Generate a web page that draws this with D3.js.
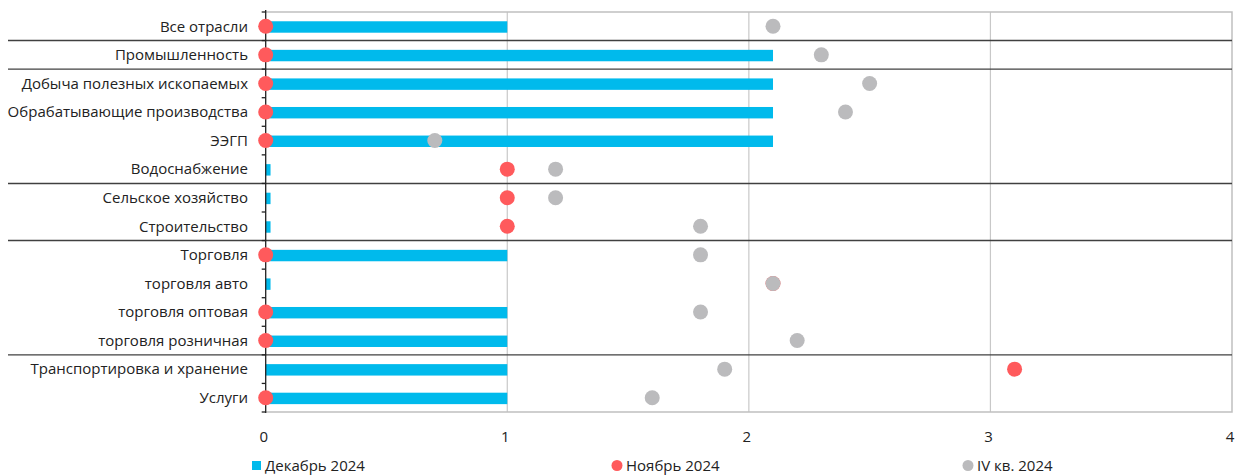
<!DOCTYPE html>
<html><head><meta charset="utf-8">
<script src="https://cdn.jsdelivr.net/npm/d3@7"></script>
<style>
body{margin:0;background:#fff;}
svg text{font-family:"Open Sans",Roboto,sans-serif;fill:#222;}
</style></head>
<body><svg id="c" width="1236" height="476"></svg>
<script>
const categories = ["Все отрасли","Промышленность","Добыча полезных ископаемых","Обрабатывающие производства","ЭЭГП","Водоснабжение","Сельское хозяйство","Строительство","Торговля","торговля авто","торговля оптовая","торговля розничная","Транспортировка и хранение","Услуги"];
const december2024 = [1,2.1,2.1,2.1,2.1,0.02,0.02,0.02,1,0.02,1,1,1,1];
const november2024 = [0,0,0,0,0,1,1,1,0,2.1,0,0,3.1,0];
const q4_2024 = [2.1,2.3,2.5,2.4,0.7,1.2,1.2,1.8,1.8,2.1,1.8,2.2,1.9,1.6];
const separatorsAfter = ["Все отрасли","Промышленность","Водоснабжение","Строительство","торговля розничная"];
const xTicks = [0,1,2,3,4];
const seriesNames = ["Декабрь 2024","Ноябрь 2024","IV кв. 2024"];

const C_BAR="#00BAEC", C_RED="#FF5A5C", C_GRAY="#BBBBBD";
const svg=d3.select("#c");
const L=265.7, R=1232, T=12, B=412;
const x=d3.scaleLinear().domain([0,4]).range([L,R]);
const y=d3.scaleBand().domain(categories).range([T,B]).paddingInner(0.6).paddingOuter(0.3);
const step=y.step();

// gridlines
svg.append("g").selectAll("line").data(xTicks.filter(d=>d>0&&d<4)).join("line")
  .attr("x1",d=>x(d)).attr("x2",d=>x(d)).attr("y1",T).attr("y2",B)
  .attr("stroke","#c8c8c8").attr("stroke-width",1.2);
// border
svg.append("path").attr("d",`M${L},${T}H${R}V${B}H${L}`).attr("fill","none")
  .attr("stroke","#c0c0c0").attr("stroke-width",1.5);

// separators
svg.append("g").selectAll("line").data(separatorsAfter).join("line")
  .attr("x1",8).attr("x2",R)
  .attr("y1",d=>T+(categories.indexOf(d)+1)*step).attr("y2",d=>T+(categories.indexOf(d)+1)*step)
  .attr("stroke","#404040").attr("stroke-width",1.4);

// bars
svg.append("g").selectAll("rect").data(categories).join("rect")
  .attr("x",x(0)).attr("y",d=>y(d)+0.7).attr("height",y.bandwidth())
  .attr("width",(d,i)=>x(december2024[i])-x(0)).attr("fill",C_BAR);

// left axis
const yc=d3.scaleLinear().domain([0,categories.length]).range([T,B]);
svg.append("line").attr("x1",L).attr("x2",L).attr("y1",T-2).attr("y2",B+1).attr("stroke","#222").attr("stroke-width",1.3);
svg.append("g").selectAll("line").data(d3.range(categories.length+1)).join("line")
  .attr("x1",L-4).attr("x2",L).attr("y1",d=>yc(d)).attr("y2",d=>yc(d)).attr("stroke","#222").attr("stroke-width",1.3);

// category labels
svg.append("g").selectAll("text").data(categories).join("text")
  .attr("x",248).attr("y",d=>T+(categories.indexOf(d)+0.5)*step).attr("dy","0.35em")
  .attr("text-anchor","end").attr("font-size",15).text(d=>d);

// dots
svg.append("g").selectAll("circle").data(categories).join("circle")
  .attr("cx",(d,i)=>x(november2024[i])).attr("cy",d=>T+(categories.indexOf(d)+0.5)*step)
  .attr("r",7.5).attr("fill",C_RED);
svg.append("g").selectAll("circle").data(categories).join("circle")
  .attr("cx",(d,i)=>x(q4_2024[i])).attr("cy",d=>T+(categories.indexOf(d)+0.5)*step)
  .attr("r",7.5).attr("fill",C_GRAY);

// x tick labels
svg.append("g").selectAll("text").data(xTicks).join("text")
  .attr("x",d=>x(d)-2).attr("y",437).attr("dy","0.35em").attr("text-anchor","middle")
  .attr("font-size",15).text(d=>d);

// legend
const lg=svg.append("g");
lg.append("rect").attr("x",252).attr("y",461).attr("width",9).attr("height",9).attr("fill",C_BAR);
lg.append("text").attr("x",265).attr("y",466).attr("dy","0.35em").attr("font-size",15).text(seriesNames[0]);
lg.append("circle").attr("cx",617).attr("cy",465.5).attr("r",5.5).attr("fill",C_RED);
lg.append("text").attr("x",626).attr("y",466).attr("dy","0.35em").attr("font-size",15).text(seriesNames[1]);
lg.append("circle").attr("cx",968).attr("cy",465.5).attr("r",5.5).attr("fill",C_GRAY);
lg.append("text").attr("x",977).attr("y",466).attr("dy","0.35em").attr("font-size",15).text(seriesNames[2]);
</script></body></html>
